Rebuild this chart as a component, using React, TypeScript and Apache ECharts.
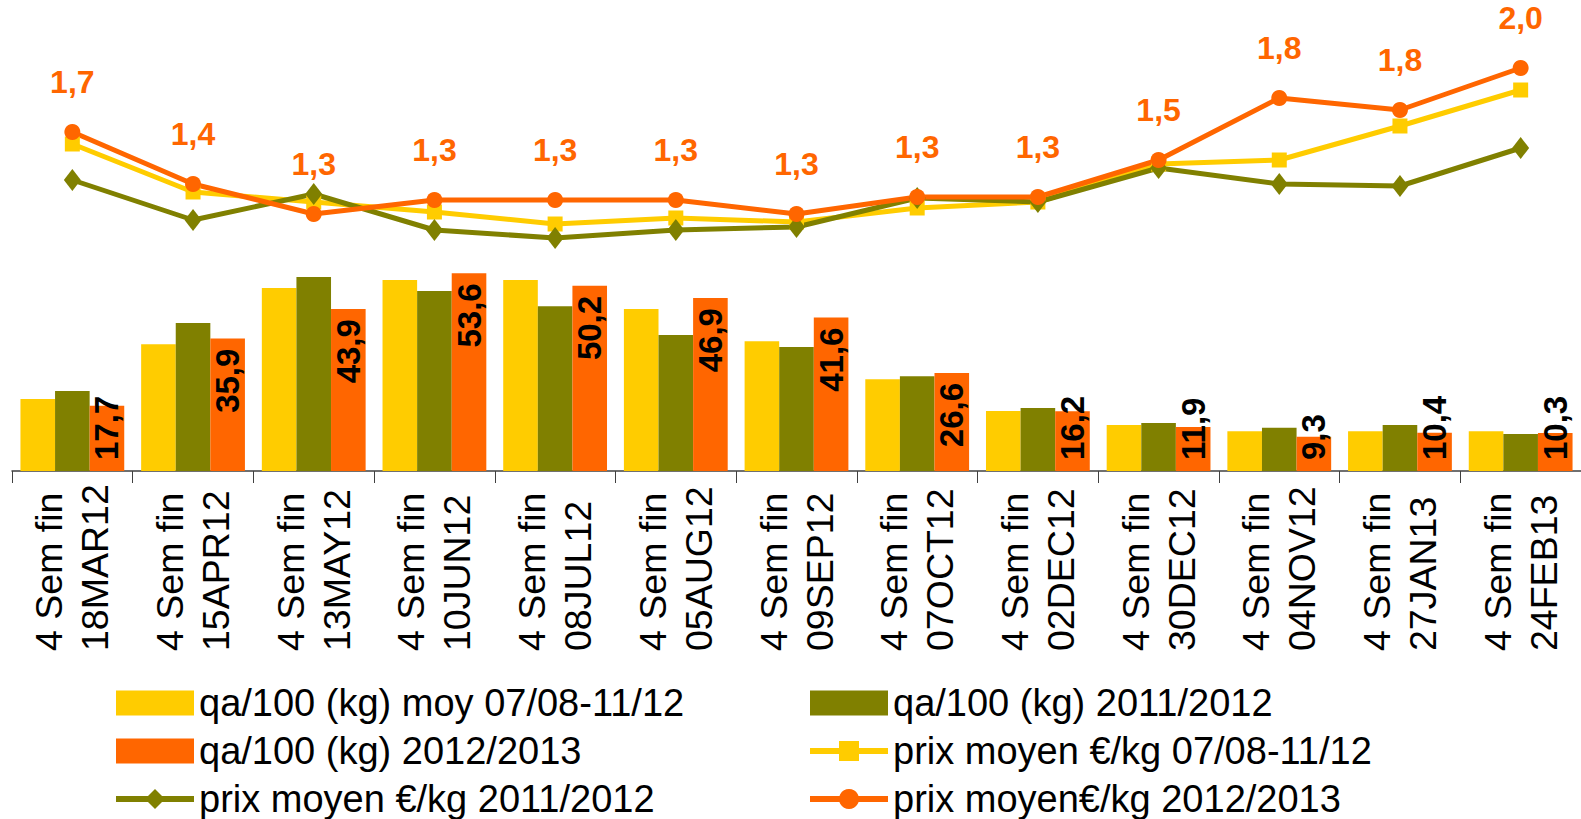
import React, { useEffect, useRef } from "react";
import * as echarts from "echarts";

const weeks = ["18MAR12", "15APR12", "13MAY12", "10JUN12", "08JUL12", "05AUG12", "09SEP12", "07OCT12", "02DEC12", "30DEC12", "04NOV12", "27JAN13", "24FEB13"];
const categories = weeks.map((w) => "4 Sem fin\n" + w);

const qaMoy = [19.5, 34.4, 49.6, 51.8, 51.8, 43.9, 35.2, 24.9, 16.3, 12.5, 10.8, 10.8, 10.8];
const qa1112 = [21.7, 40.1, 52.6, 48.8, 44.7, 36.9, 33.6, 25.7, 17.1, 13.0, 11.7, 12.5, 10.0];
const qa1213 = [17.7, 35.9, 43.9, 53.6, 50.2, 46.9, 41.6, 26.6, 16.2, 11.9, 9.3, 10.4, 10.3];

const prixMoy = [1.61, 1.37, 1.32, 1.27, 1.21, 1.24, 1.22, 1.29, 1.32, 1.51, 1.53, 1.70, 1.88];
const prix1112 = [1.43, 1.23, 1.36, 1.18, 1.14, 1.18, 1.195, 1.34, 1.32, 1.49, 1.41, 1.40, 1.59];
const prix1213 = [1.67, 1.41, 1.26, 1.33, 1.33, 1.33, 1.26, 1.345, 1.345, 1.53, 1.84, 1.78, 1.99];

const seriesNames = [
  "qa/100 (kg) moy 07/08-11/12",
  "qa/100 (kg) 2011/2012",
  "qa/100 (kg) 2012/2013",
  "prix moyen €/kg 07/08-11/12",
  "prix moyen €/kg 2011/2012",
  "prix moyen€/kg 2012/2013",
];

const YELLOW = "#FFCC00";
const OLIVE = "#808000";
const ORANGE = "#FF6600";
const FONT = "'Liberation Sans', Arial, sans-serif";

const fmt = (v: number) => v.toFixed(1).replace(".", ",");

export default function App() {
  const ref = useRef<HTMLDivElement>(null);
  useEffect(() => {
    document.body.style.margin = "0";
    if (!ref.current) return;
    const chart = echarts.init(ref.current, undefined, { renderer: "svg" });
    const barData = qa1213.map((v) => {
      const big = v > 22;
      return {
        value: v,
        label: big
          ? { position: "insideTop", distance: 10, align: "right", verticalAlign: "middle" }
          : { position: "insideBottom", distance: 11, align: "left", verticalAlign: "middle" },
      };
    });
    const legendText = { fontFamily: FONT, fontSize: 38, color: "#000", lineHeight: 40 };
    const legendItem = (i: number) =>
      i < 3 ? { name: seriesNames[i], icon: "rect" } : { name: seriesNames[i] };
    chart.setOption({
      animation: false,
      textStyle: { fontFamily: FONT },
      grid: { left: 12, right: -15, top: 10, bottom: 348, containLabel: false },
      legend: [
        {
          orient: "vertical",
          left: 113,
          top: 683,
          padding: 0,
          itemGap: 8,
          itemWidth: 78,
          itemHeight: 25,
          textStyle: legendText,
          lineStyle: { width: 6 },
          data: [legendItem(0), legendItem(2), legendItem(4)],
        },
        {
          orient: "vertical",
          left: 807,
          top: 683,
          padding: 0,
          itemGap: 8,
          itemWidth: 78,
          itemHeight: 25,
          textStyle: legendText,
          lineStyle: { width: 6 },
          data: [legendItem(1), legendItem(3), legendItem(5)],
        },
      ],
      xAxis: {
        type: "category",
        data: categories,
        boundaryGap: true,
        axisLine: { show: true, lineStyle: { color: "#404040", width: 1.5 } },
        axisTick: { show: true, length: 12, lineStyle: { color: "#404040" }, alignWithLabel: false },
        axisLabel: {
          interval: 0,
          rotate: 90,
          align: "left",
          verticalAlign: "middle",
          margin: 180,
          fontSize: 37.5,
          lineHeight: 46,
          color: "#000",
          fontFamily: FONT,
        },
      },
      yAxis: [
        { type: "value", min: 0, max: 125, show: false, splitLine: { show: false } },
        { type: "value", min: -0.025, max: 2.28, show: false, splitLine: { show: false } },
      ],
      series: [
        {
          name: seriesNames[0],
          type: "bar",
          data: qaMoy,
          itemStyle: { color: YELLOW },
          barGap: "0%",
          barCategoryGap: "14%",
        },
        {
          name: seriesNames[1],
          type: "bar",
          data: qa1112,
          itemStyle: { color: OLIVE },
          barGap: "0%",
          barCategoryGap: "14%",
        },
        {
          name: seriesNames[2],
          type: "bar",
          data: barData,
          itemStyle: { color: ORANGE },
          barGap: "0%",
          barCategoryGap: "14%",
          label: {
            show: true,
            rotate: 90,
            fontSize: 33,
            fontWeight: "bold",
            color: "#000",
            fontFamily: FONT,
            formatter: (p: any) => fmt(p.value),
          },
        },
        {
          name: seriesNames[3],
          type: "line",
          yAxisIndex: 1,
          data: prixMoy,
          symbol: "rect",
          symbolSize: 15,
          lineStyle: { color: YELLOW, width: 5 },
          itemStyle: { color: YELLOW },
        },
        {
          name: seriesNames[4],
          type: "line",
          yAxisIndex: 1,
          data: prix1112,
          symbol: "diamond",
          symbolSize: [17, 22],
          lineStyle: { color: OLIVE, width: 5 },
          itemStyle: { color: OLIVE },
        },
        {
          name: seriesNames[5],
          type: "line",
          yAxisIndex: 1,
          data: prix1213,
          symbol: "circle",
          symbolSize: 16,
          lineStyle: { color: ORANGE, width: 5 },
          itemStyle: { color: ORANGE },
          label: {
            show: true,
            position: "top",
            distance: 26,
            fontSize: 32,
            fontWeight: "bold",
            color: ORANGE,
            fontFamily: FONT,
            formatter: (p: any) => fmt(p.value),
          },
        },
      ],
    });
    return () => chart.dispose();
  }, []);
  return <div ref={ref} style={{ width: 1581, height: 819 }} />;
}
